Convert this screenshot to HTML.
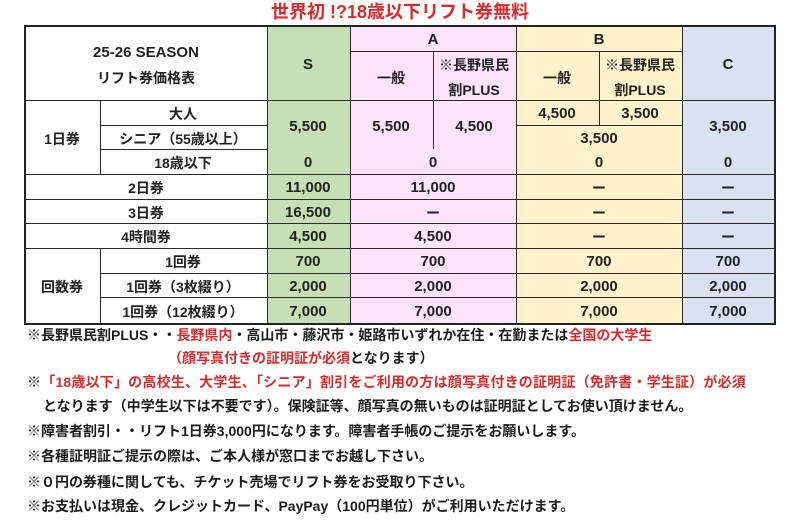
<!DOCTYPE html>
<html><head><meta charset="utf-8">
<style>
html,body{margin:0;padding:0;background:#fff;}
body{width:800px;height:525px;position:relative;overflow:hidden;font-family:"Liberation Sans","Noto Sans CJK JP",sans-serif;font-weight:bold;color:#222;}
.bg{position:absolute;}
.h{position:absolute;height:1px;background:#2a2a2a;}
.v{position:absolute;width:1px;background:#2a2a2a;}
.t{position:absolute;width:180px;margin-left:-90px;text-align:center;height:20px;line-height:20px;margin-top:-8px;white-space:nowrap;font-size:14px;}
.n{font-size:15px;}
.note{position:absolute;height:20px;line-height:20px;margin-top:-9px;white-space:nowrap;font-size:14px;color:#1c1c1c;}
.r{color:#d92b2b;}
</style></head><body>

<div class="t r" style="left:400px;top:11px;width:400px;margin-left:-200px;font-size:18px;height:24px;line-height:24px;margin-top:-11px;">世界初 !?18歳以下リフト券無料</div>

<!-- backgrounds -->
<div class="bg" style="left:267px;top:26px;width:83px;height:297px;background:#c7dfb4;"></div>
<div class="bg" style="left:350px;top:26px;width:166px;height:297px;background:#fde3fb;"></div>
<div class="bg" style="left:516px;top:26px;width:166px;height:297px;background:#fff2cc;"></div>
<div class="bg" style="left:682px;top:26px;width:92px;height:297px;background:#d9e1f2;"></div>

<!-- horizontal lines -->
<div class="h" style="left:350px;top:51px;width:332px;"></div>
<div class="h" style="left:25px;top:100px;width:749px;"></div>
<div class="h" style="left:100px;top:125px;width:167px;"></div>
<div class="h" style="left:516px;top:125px;width:166px;"></div>
<div class="h" style="left:100px;top:149px;width:167px;"></div>
<div class="h" style="left:25px;top:174px;width:749px;"></div>
<div class="h" style="left:25px;top:199px;width:749px;"></div>
<div class="h" style="left:25px;top:223px;width:749px;"></div>
<div class="h" style="left:25px;top:248px;width:749px;"></div>
<div class="h" style="left:100px;top:273px;width:674px;"></div>
<div class="h" style="left:100px;top:297px;width:674px;"></div>

<!-- vertical lines -->
<div class="v" style="left:100px;top:100px;height:74px;"></div>
<div class="v" style="left:100px;top:248px;height:75px;"></div>
<div class="v" style="left:267px;top:26px;height:297px;"></div>
<div class="v" style="left:350px;top:26px;height:297px;"></div>
<div class="v" style="left:433px;top:51px;height:98px;"></div>
<div class="v" style="left:516px;top:26px;height:297px;"></div>
<div class="v" style="left:599px;top:51px;height:74px;"></div>
<div class="v" style="left:682px;top:26px;height:297px;"></div>

<!-- outer border -->
<div style="position:absolute;left:24px;top:25px;width:752px;height:300px;border:2px solid #222;box-sizing:border-box;"></div>

<!-- header -->
<div class="t n" style="left:146px;top:51px;">25-26 SEASON</div>
<div class="t" style="left:146px;top:76px;">リフト券価格表</div>
<div class="t n" style="left:308px;top:63px;">S</div>
<div class="t n" style="left:433px;top:38px;">A</div>
<div class="t n" style="left:599px;top:38px;">B</div>
<div class="t n" style="left:728px;top:63px;">C</div>
<div class="t" style="left:391px;top:76px;">一般</div>
<div class="t" style="left:474px;top:63px;">※長野県民</div>
<div class="t" style="left:474px;top:88px;">割PLUS</div>
<div class="t" style="left:557px;top:76px;">一般</div>
<div class="t" style="left:640px;top:63px;">※長野県民</div>
<div class="t" style="left:640px;top:88px;">割PLUS</div>

<!-- 1日券 -->
<div class="t" style="left:62px;top:137px;">1日券</div>
<div class="t" style="left:183px;top:112px;">大人</div>
<div class="t" style="left:183px;top:137px;">シニア（55歳以上）</div>
<div class="t" style="left:183px;top:161px;">18歳以下</div>
<div class="t n" style="left:308px;top:125px;">5,500</div>
<div class="t n" style="left:308px;top:161px;">0</div>
<div class="t n" style="left:391px;top:125px;">5,500</div>
<div class="t n" style="left:474px;top:125px;">4,500</div>
<div class="t n" style="left:433px;top:161px;">0</div>
<div class="t n" style="left:557px;top:112px;">4,500</div>
<div class="t n" style="left:640px;top:112px;">3,500</div>
<div class="t n" style="left:599px;top:137px;">3,500</div>
<div class="t n" style="left:599px;top:161px;">0</div>
<div class="t n" style="left:728px;top:125px;">3,500</div>
<div class="t n" style="left:728px;top:161px;">0</div>

<!-- 2日券 -->
<div class="t" style="left:146px;top:186px;">2日券</div>
<div class="t n" style="left:308px;top:186px;">11,000</div>
<div class="t n" style="left:433px;top:186px;">11,000</div>
<div class="t" style="left:599px;top:186px;">ー</div>
<div class="t" style="left:728px;top:186px;">ー</div>

<!-- 3日券 -->
<div class="t" style="left:146px;top:211px;">3日券</div>
<div class="t n" style="left:308px;top:211px;">16,500</div>
<div class="t" style="left:433px;top:211px;">ー</div>
<div class="t" style="left:599px;top:211px;">ー</div>
<div class="t" style="left:728px;top:211px;">ー</div>

<!-- 4時間券 -->
<div class="t" style="left:146px;top:235px;">4時間券</div>
<div class="t n" style="left:308px;top:235px;">4,500</div>
<div class="t n" style="left:433px;top:235px;">4,500</div>
<div class="t" style="left:599px;top:235px;">ー</div>
<div class="t" style="left:728px;top:235px;">ー</div>

<!-- 回数券 -->
<div class="t" style="left:62px;top:285px;">回数券</div>
<div class="t" style="left:183px;top:260px;">1回券</div>
<div class="t" style="left:183px;top:285px;">1回券（3枚綴り）</div>
<div class="t" style="left:183px;top:310px;">1回券（12枚綴り）</div>
<div class="t n" style="left:308px;top:260px;">700</div>
<div class="t n" style="left:433px;top:260px;">700</div>
<div class="t n" style="left:599px;top:260px;">700</div>
<div class="t n" style="left:728px;top:260px;">700</div>
<div class="t n" style="left:308px;top:285px;">2,000</div>
<div class="t n" style="left:433px;top:285px;">2,000</div>
<div class="t n" style="left:599px;top:285px;">2,000</div>
<div class="t n" style="left:728px;top:285px;">2,000</div>
<div class="t n" style="left:308px;top:310px;">7,000</div>
<div class="t n" style="left:433px;top:310px;">7,000</div>
<div class="t n" style="left:599px;top:310px;">7,000</div>
<div class="t n" style="left:728px;top:310px;">7,000</div>

<!-- notes -->
<div class="note" style="left:27px;top:334px;">※長野県民割PLUS・・<span class="r">長野県内</span>・高山市・藤沢市・姫路市いずれか在住・在勤または<span class="r">全国の大学生</span></div>
<div class="note" style="left:168px;top:357px;"><span class="r">（顔写真付きの証明証が必須</span>となります）</div>
<div class="note" style="left:27px;top:381px;letter-spacing:0.2px;">※<span class="r">「18歳以下」の高校生、大学生、「シニア」割引をご利用の方は顔写真付きの証明証（免許書・学生証）が必須</span></div>
<div class="note" style="left:43px;top:405px;">となります（中学生以下は不要です）。保険証等、顔写真の無いものは証明証としてお使い頂けません。</div>
<div class="note" style="left:27px;top:430px;">※障害者割引・・リフト1日券3,000円になります。障害者手帳のご提示をお願いします。</div>
<div class="note" style="left:27px;top:455px;">※各種証明証ご提示の際は、ご本人様が窓口までお越し下さい。</div>
<div class="note" style="left:27px;top:481px;">※０円の券種に関しても、チケット売場でリフト券をお受取り下さい。</div>
<div class="note" style="left:27px;top:505px;">※お支払いは現金、クレジットカード、PayPay（100円単位）がご利用いただけます。</div>

</body></html>
